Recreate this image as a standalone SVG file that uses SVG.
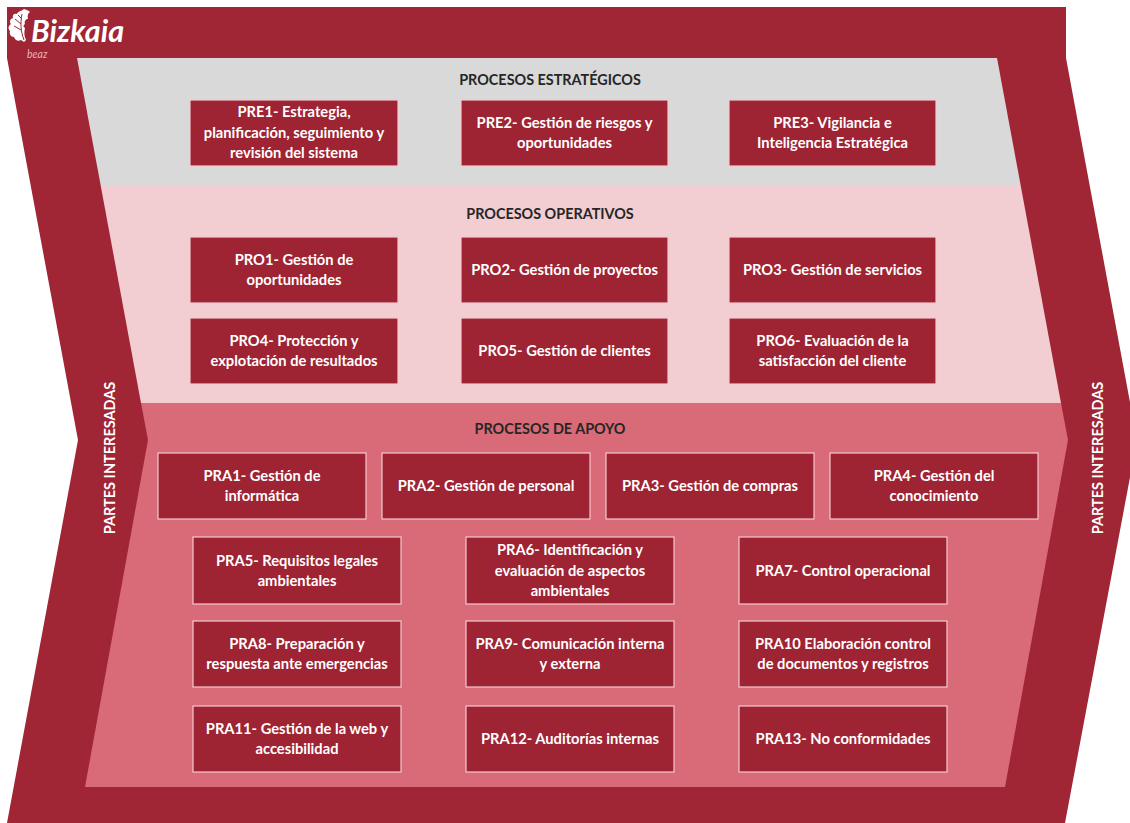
<svg xmlns="http://www.w3.org/2000/svg" width="1130" height="823" viewBox="0 0 1130 823">
<style>
.band{fill:#A02535}
.box rect{fill:#9E2333;stroke:#F3C9CE;stroke-width:1.2}
.box text{fill:#FFFFFF;font-family:Lato,"Open Sans","Liberation Sans",sans-serif;font-weight:700;font-size:14.7px;text-anchor:middle}
.hdr{fill:#262626;font-family:Lato,"Open Sans","Liberation Sans",sans-serif;font-weight:700;font-size:14.4px;text-anchor:middle}
.side{fill:#FFFFFF;font-family:Lato,"Open Sans","Liberation Sans",sans-serif;font-weight:700;font-size:14.5px;text-anchor:middle}
</style>
<rect width="1130" height="823" fill="#FFFFFF"/>
<g id="frame">
<polygon class="band" points="7,7 1066,7 1066,58 1137,440 1065,823 7,823 78,440 7,58"/>
<polygon fill="#D9D9D9" points="77,58 997,58 1020.6,185 100.6,185"/>
<polygon fill="#F2CDD2" points="100.6,185 1020.6,185 1061,403 141,403"/>
<polygon fill="#D96A78" points="141,403 1061,403 1068,440 1005,787 85,787 148,440"/>
</g>
<g id="logo">
<path fill="#FFFFFF" d="M24,9 C20,12 18,11 17,14 C14,13 12,15 13,18 C10,19 9,22 11,24 C8,26 8,29 10,31 C9,34 11,37 14,37 C15,40 18,42 21,40 L24,42 L26,40 C24,36 24,32 25,28 C23,27 23,25 25,24 C24,21 26,19 28,19 C27,16 28,13 30,12 C28,10 26,10 24,9 Z"/>
<path fill="none" stroke="#A02535" stroke-width="1" d="M24,40 C21,32 20,24 22,14 M21,30 L14,26 M21,24 L15,19 M22,19 L18,15"/>
<text x="31" y="42" fill="#FFFFFF" font-family="Lato,'Open Sans','Liberation Sans',sans-serif" font-weight="700" font-style="italic" font-size="30.5">Bizkaia</text>
<text x="27" y="58" fill="#E6B3BA" font-family="Lato,'Open Sans','Liberation Sans',sans-serif" font-style="italic" font-size="10.5">beaz</text>
</g>
<g id="side-labels">
<text class="side" transform="translate(115,458) rotate(-90)">PARTES INTERESADAS</text>
<text class="side" transform="translate(1103,458) rotate(-90)">PARTES INTERESADAS</text>
</g>
<g id="headers">
<text class="hdr" x="550" y="85">PROCESOS ESTRATÉGICOS</text>
<text class="hdr" x="550" y="219">PROCESOS OPERATIVOS</text>
<text class="hdr" x="550" y="434">PROCESOS DE APOYO</text>
</g>
<g id="connectors"></g>
<g id="PRE1" class="box"><rect x="190" y="100" width="208" height="66"/><text x="294" y="117">PRE1- Estrategia,</text><text x="294" y="138">planificación, seguimiento y</text><text x="294" y="158">revisión del sistema</text></g>
<g id="PRE2" class="box"><rect x="461" y="100" width="207" height="66"/><text x="564.5" y="128">PRE2- Gestión de riesgos y</text><text x="564.5" y="148">oportunidades</text></g>
<g id="PRE3" class="box"><rect x="729" y="100" width="207" height="66"/><text x="832.5" y="128">PRE3- Vigilancia e</text><text x="832.5" y="148">Inteligencia Estratégica</text></g>
<g id="PRO1" class="box"><rect x="190" y="237" width="208" height="66"/><text x="294" y="265">PRO1- Gestión de</text><text x="294" y="285">oportunidades</text></g>
<g id="PRO2" class="box"><rect x="461" y="237" width="207" height="66"/><text x="564.5" y="275">PRO2- Gestión de proyectos</text></g>
<g id="PRO3" class="box"><rect x="729" y="237" width="207" height="66"/><text x="832.5" y="275">PRO3- Gestión de servicios</text></g>
<g id="PRO4" class="box"><rect x="190" y="318" width="208" height="66"/><text x="294" y="346">PRO4- Protección y</text><text x="294" y="366">explotación de resultados</text></g>
<g id="PRO5" class="box"><rect x="461" y="318" width="207" height="66"/><text x="564.5" y="356">PRO5- Gestión de clientes</text></g>
<g id="PRO6" class="box"><rect x="729" y="318" width="207" height="66"/><text x="832.5" y="346">PRO6- Evaluación de la</text><text x="832.5" y="366">satisfacción del cliente</text></g>
<g id="PRA1" class="box"><rect x="158" y="453" width="208" height="66"/><text x="262" y="481">PRA1- Gestión de</text><text x="262" y="501">informática</text></g>
<g id="PRA2" class="box"><rect x="382" y="453" width="208" height="66"/><text x="486" y="491">PRA2- Gestión de personal</text></g>
<g id="PRA3" class="box"><rect x="606" y="453" width="208" height="66"/><text x="710" y="491">PRA3- Gestión de compras</text></g>
<g id="PRA4" class="box"><rect x="830" y="453" width="208" height="66"/><text x="934" y="481">PRA4- Gestión del</text><text x="934" y="501">conocimiento</text></g>
<g id="PRA5" class="box"><rect x="193" y="537" width="208" height="67"/><text x="297" y="566">PRA5- Requisitos legales</text><text x="297" y="586">ambientales</text></g>
<g id="PRA6" class="box"><rect x="466" y="537" width="208" height="67"/><text x="570" y="555">PRA6- Identificación y</text><text x="570" y="576">evaluación de aspectos</text><text x="570" y="596">ambientales</text></g>
<g id="PRA7" class="box"><rect x="739" y="537" width="208" height="67"/><text x="843" y="576">PRA7- Control operacional</text></g>
<g id="PRA8" class="box"><rect x="193" y="621" width="208" height="66"/><text x="297" y="649">PRA8- Preparación y</text><text x="297" y="669">respuesta ante emergencias</text></g>
<g id="PRA9" class="box"><rect x="466" y="621" width="208" height="66"/><text x="570" y="649">PRA9- Comunicación interna</text><text x="570" y="669">y externa</text></g>
<g id="PRA10" class="box"><rect x="739" y="621" width="208" height="66"/><text x="843" y="649">PRA10 Elaboración control</text><text x="843" y="669">de documentos y registros</text></g>
<g id="PRA11" class="box"><rect x="193" y="706" width="208" height="66"/><text x="297" y="734">PRA11- Gestión de la web y</text><text x="297" y="754">accesibilidad</text></g>
<g id="PRA12" class="box"><rect x="466" y="706" width="208" height="66"/><text x="570" y="744">PRA12- Auditorías internas</text></g>
<g id="PRA13" class="box"><rect x="739" y="706" width="208" height="66"/><text x="843" y="744">PRA13- No conformidades</text></g>
</svg>
